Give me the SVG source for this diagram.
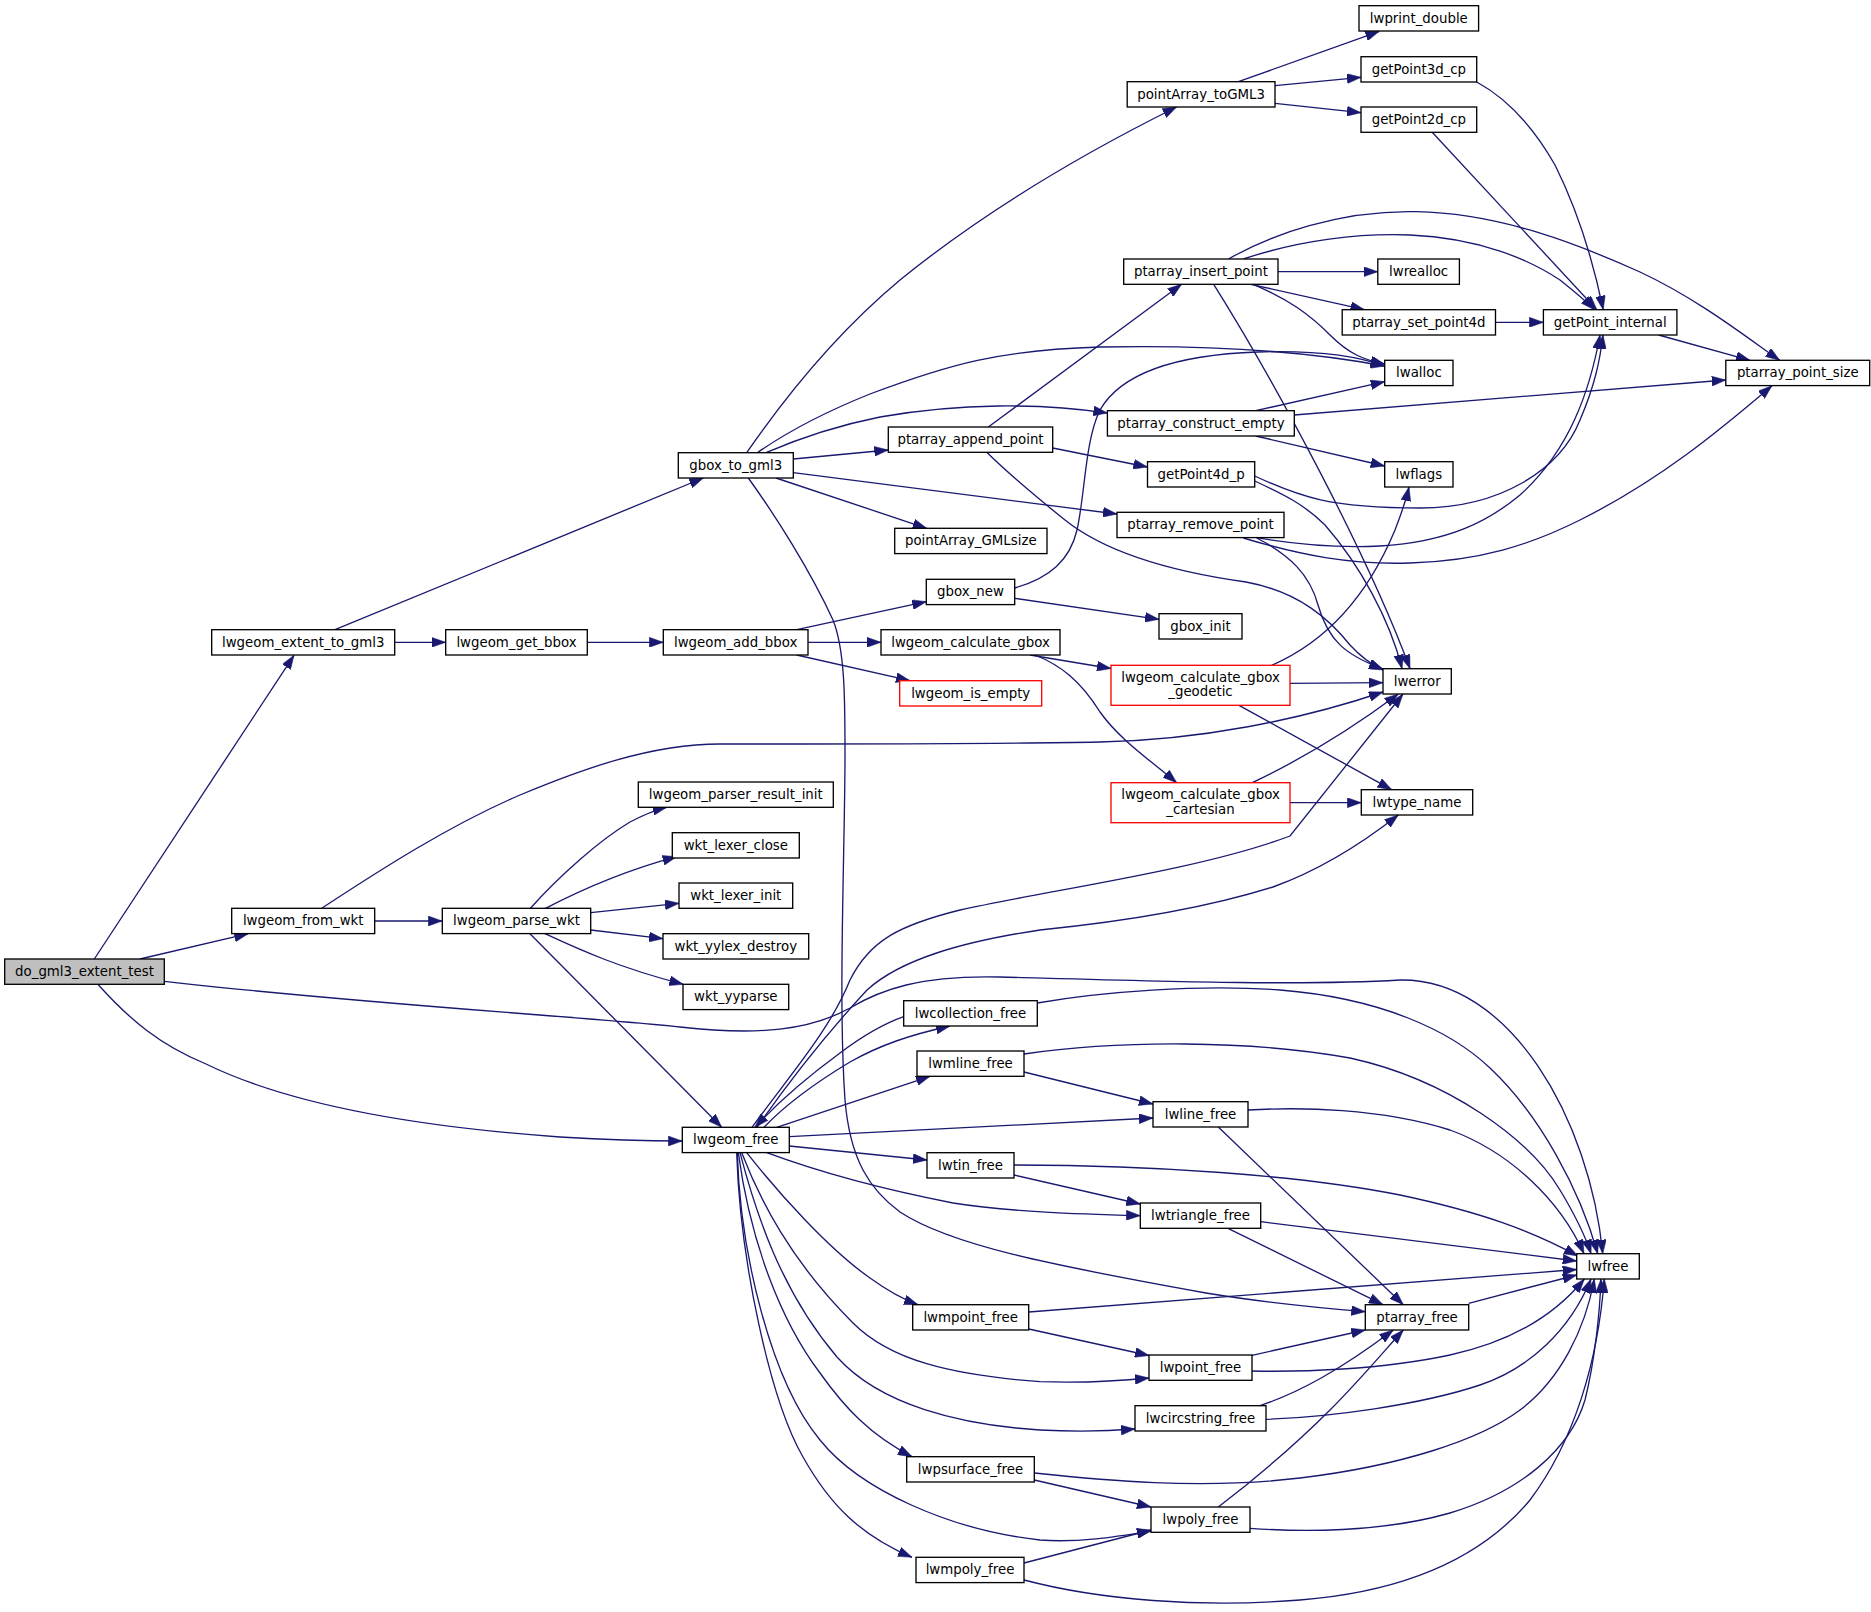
<svg xmlns="http://www.w3.org/2000/svg" width="1871" height="1612" viewBox="0 0 1871 1612">
<style>
.n rect{fill:#fff;stroke:#000;stroke-width:1.33}
.n.root rect{fill:#bfbfbf}
.n.red rect{stroke:#ff0000}
.n text{font-family:"DejaVu Sans","Liberation Sans",sans-serif;font-size:13.33px;text-anchor:middle;fill:#000}
.e path{fill:none;stroke:#191970;stroke-width:1.33;marker-end:url(#arr)}
</style>
<defs>
<marker id="arr" markerUnits="userSpaceOnUse" markerWidth="14" markerHeight="10" viewBox="0 0 13.3 9.4" refX="13.3" refY="4.7" orient="auto">
<path d="M0,0 L13.3,4.7 L0,9.4 z" fill="#191970" stroke="#191970" stroke-width="0.5"/>
</marker>
</defs>
<rect width="1871" height="1612" fill="#fff"/>
<g id="connectors" class="e">
<path d="M94.3,959 L294,655.3"/>
<path d="M140,959 L248.3,933.7"/>
<path d="M164.3,981.3 C350,1003 600,1018 680,1027 C760,1036 810,1030 850,1008 C880,990 920,975 1000,977 C1150,981 1300,986 1400,980 C1510,978 1590,1120 1602.7,1253.7"/>
<path d="M98.3,984.7 C130,1020 160,1045 206,1064 C290,1105 420,1127 560,1137 C610,1140 650,1141 682.3,1141"/>
<path d="M394.7,642.3 L445.7,642.3"/>
<path d="M335,629.7 L703.3,478"/>
<path d="M587.3,642.3 L663.3,642.3"/>
<path d="M796.7,629.7 L926.3,601.7"/>
<path d="M808,642.3 L881,642.3"/>
<path d="M796.7,655 L910,680.7"/>
<path d="M1014.7,588 C1050,578 1070,560 1077,530 C1085,495 1085,440 1100,410 C1120,375 1170,355 1258,352 C1320,350 1360,357 1384.7,366"/>
<path d="M1014.7,598.3 L1159,619.3"/>
<path d="M1030,655 L1111,668.5"/>
<path d="M1035,655 C1060,665 1080,680 1100,712 C1120,740 1150,760 1176.7,782.7"/>
<path d="M1290,683.3 L1383,682.7"/>
<path d="M1271.7,665.3 C1330,640 1370,590 1395,530 C1402,512 1406,500 1409,487"/>
<path d="M1239,705.3 L1391.7,789.7"/>
<path d="M1252.3,782.7 C1300,760 1350,730 1398.3,694"/>
<path d="M1290,802.7 L1361.3,802.7"/>
<path d="M746.7,452.7 C790,390 840,330 900,280 C980,215 1080,155 1176.6,107"/>
<path d="M757.3,452.7 C790,430 830,410 870,394 C950,364 1000,350 1100,347 C1200,345 1300,350 1384.7,366"/>
<path d="M766,452.7 C800,438 840,425 880,417 C960,403 1040,403 1107.4,413"/>
<path d="M793.3,459 L888.3,450"/>
<path d="M793.3,472.7 L1117,514"/>
<path d="M776,478 L926.7,528.3"/>
<path d="M748.3,478 C775,515 810,570 833,620 C845,650 845,700 845,753 C845,850 838,1000 845,1100 C850,1160 870,1190 900,1212 C950,1245 1050,1265 1206,1293 C1260,1302 1310,1307 1365.3,1311.7"/>
<path d="M988.3,427 L1181.6,284.3"/>
<path d="M1052.7,448 L1147.5,467"/>
<path d="M986.7,452.3 C1010,475 1040,500 1065,520 C1100,548 1160,570 1246,582 C1300,592 1330,620 1350,645 C1362,658 1372,665 1383,670"/>
<path d="M1238.4,81.7 L1379.3,31.3"/>
<path d="M1275,85.7 L1361,77.3"/>
<path d="M1275,103.3 L1361,112.7"/>
<path d="M1476.7,82 C1510,100 1535,130 1555,165 C1580,215 1595,270 1603.2,309.7"/>
<path d="M1432.2,132.3 L1596.8,309.7"/>
<path d="M1243.4,259 C1300,240 1360,233 1410,235 C1480,238 1530,260 1560,280 C1575,292 1585,300 1594.3,309.7"/>
<path d="M1228.5,259 C1270,235 1340,210 1416,211.7 C1500,213 1580,245 1640,272 C1700,300 1750,340 1779.7,360.3"/>
<path d="M1278,271.7 L1377.8,271.7"/>
<path d="M1250.8,284.3 L1364.5,309.7"/>
<path d="M1253.2,284.3 C1290,300 1310,315 1330,335 C1350,355 1365,360 1384.7,364"/>
<path d="M1213.7,284.3 C1280,390 1370,560 1410,668.7"/>
<path d="M1495.5,322.3 L1543.4,322.3"/>
<path d="M1658.6,335 L1750,360.3"/>
<path d="M1255.7,410.7 L1384.7,381.7"/>
<path d="M1294.3,415 L1725.8,380"/>
<path d="M1255.7,436 L1384.7,466"/>
<path d="M1254.7,476 C1300,497 1330,508 1420,508 C1500,508 1560,470 1580,420 C1595,385 1600,360 1603,335"/>
<path d="M1256.7,537.7 C1300,545 1340,548 1380,546 C1450,542 1490,520 1520,495 C1570,450 1590,390 1600,335"/>
<path d="M1243.3,538 C1300,555 1350,565 1410,563 C1480,561 1530,545 1580,520 C1660,480 1720,430 1772,385.7"/>
<path d="M1256.7,538 C1290,555 1310,575 1318,605 C1328,640 1345,655 1383,669"/>
<path d="M1254.7,481 C1285,495 1305,505 1325,525 C1360,565 1390,620 1402,668.7"/>
<path d="M374.7,921 L442.3,921"/>
<path d="M321.7,908.3 C380,870 450,825 520,795 C580,770 650,744 720,744 C850,744 1000,744 1100,742 C1200,740 1300,720 1383,692"/>
<path d="M530,908.7 C560,875 600,840 630,822 C645,814 655,810 666.7,807.3"/>
<path d="M545,908.7 C575,893 620,872 676.7,856.7"/>
<path d="M590.7,912.7 L679,903.3"/>
<path d="M590.7,930 L663,938.7"/>
<path d="M545,933.7 C580,950 620,968 683.3,984.3"/>
<path d="M530,933.7 L721.7,1127.3"/>
<path d="M752,1127.3 C790,1075 830,1030 850,980 C870,940 900,925 960,910 C1050,890 1200,870 1290,836 L1403,694"/>
<path d="M757,1127.3 C790,1080 830,1030 867,990 C900,960 960,942 1040,930 C1120,922 1200,910 1273,887 C1320,870 1360,845 1398.3,815"/>
<path d="M903.7,1016.7 C880,1025 860,1038 840,1053 C810,1075 780,1100 755,1127.3"/>
<path d="M764,1127.3 C790,1100 820,1080 850,1062 C880,1045 910,1035 950,1026"/>
<path d="M776.7,1127.3 L930,1076.3"/>
<path d="M789.3,1136.7 L1153,1118"/>
<path d="M789.3,1146 L927,1160"/>
<path d="M766.7,1152.7 C800,1165 860,1185 953,1203 C1010,1212 1080,1214 1140.3,1215.7"/>
<path d="M746.7,1152.7 C780,1195 830,1250 870,1278 C888,1291 905,1300 918,1304.7"/>
<path d="M741.7,1152.7 C760,1200 790,1260 853,1323 C890,1360 950,1375 1040,1381.7 C1080,1383 1120,1381 1149,1378"/>
<path d="M740,1152.7 C755,1210 780,1290 837,1357 C880,1405 960,1425 1040,1430 C1080,1432 1110,1431 1135,1429"/>
<path d="M738.3,1152.7 C750,1240 780,1320 820,1373 C845,1408 870,1435 912,1456.7"/>
<path d="M737.3,1152.7 C740,1250 770,1380 820,1440 C860,1490 950,1530 1040,1540 C1080,1543 1120,1536 1151,1531"/>
<path d="M736.7,1152.7 C740,1260 770,1400 803,1457 C830,1505 860,1535 912,1557.3"/>
<path d="M1037.3,1003 C1100,992 1200,984 1280,990 C1380,998 1450,1030 1490,1068 C1540,1115 1580,1190 1597.7,1253.7"/>
<path d="M1024,1072 L1153,1104"/>
<path d="M1024,1054 C1120,1040 1250,1040 1350,1058 C1450,1080 1530,1140 1560,1190 C1575,1215 1585,1235 1591,1253.7"/>
<path d="M1218.3,1127 L1403.3,1304.7"/>
<path d="M1248,1110 C1300,1107 1380,1108 1450,1130 C1510,1152 1560,1200 1584,1253.7"/>
<path d="M1014,1175 L1140.3,1204"/>
<path d="M1014,1165 C1150,1165 1300,1175 1400,1195 C1480,1212 1530,1230 1578,1256"/>
<path d="M1228,1228.3 L1383,1304.7"/>
<path d="M1260.7,1221.7 L1576.7,1261"/>
<path d="M1028.7,1329 L1149,1355.5"/>
<path d="M1028.7,1312 L1576.7,1269.5"/>
<path d="M1468.7,1303.3 L1576.7,1275"/>
<path d="M1252,1355.3 L1365.3,1330"/>
<path d="M1252,1371 C1300,1372 1380,1370 1450,1355 C1510,1342 1555,1315 1584.3,1279"/>
<path d="M1260,1405.7 C1300,1392 1340,1370 1393.3,1330"/>
<path d="M1266,1419.3 C1330,1417 1420,1405 1480,1385 C1530,1368 1570,1330 1591,1279"/>
<path d="M1034.3,1480 L1151,1507"/>
<path d="M1034.3,1473 C1100,1480 1200,1490 1300,1478 C1400,1466 1480,1440 1520,1410 C1560,1380 1585,1330 1594.3,1279"/>
<path d="M1218.3,1507 C1260,1475 1300,1440 1330,1410 C1360,1380 1385,1350 1403.3,1330"/>
<path d="M1250,1528.3 C1300,1532 1380,1533 1450,1513 C1520,1492 1570,1450 1585,1400 C1595,1360 1600,1310 1601,1279"/>
<path d="M1024,1563 L1151,1530"/>
<path d="M1024,1580 C1100,1600 1200,1608 1300,1600 C1400,1592 1480,1560 1530,1500 C1575,1440 1598,1360 1604.3,1279"/>
</g>
<g id="n1" class="n root"><rect x="4.7" y="959" width="159.6" height="25.3"/><text x="84.5" y="976">do_gml3_extent_test</text></g>
<g id="n2" class="n"><rect x="211.7" y="629.7" width="183" height="25.3"/><text x="303.2" y="646.7">lwgeom_extent_to_gml3</text></g>
<g id="n3" class="n"><rect x="445.7" y="629.7" width="141.6" height="25.3"/><text x="516.5" y="646.7">lwgeom_get_bbox</text></g>
<g id="n4" class="n"><rect x="663.3" y="629.7" width="144.7" height="25.3"/><text x="735.7" y="646.7">lwgeom_add_bbox</text></g>
<g id="n5" class="n"><rect x="678.3" y="452.7" width="115" height="25.3"/><text x="735.8" y="469.7">gbox_to_gml3</text></g>
<g id="n6" class="n"><rect x="1127.2" y="81.7" width="147.8" height="25.3"/><text x="1201.1" y="98.7">pointArray_toGML3</text></g>
<g id="n7" class="n"><rect x="1359" y="5.7" width="119.6" height="25.3"/><text x="1418.8" y="22.7">lwprint_double</text></g>
<g id="n8" class="n"><rect x="1361" y="56.7" width="115.7" height="25.3"/><text x="1418.9" y="73.7">getPoint3d_cp</text></g>
<g id="n9" class="n"><rect x="1361" y="107" width="115.7" height="25.3"/><text x="1418.9" y="124">getPoint2d_cp</text></g>
<g id="n10" class="n"><rect x="1123.7" y="259" width="154.3" height="25.3"/><text x="1200.9" y="276">ptarray_insert_point</text></g>
<g id="n11" class="n"><rect x="1377.8" y="259" width="81.6" height="25.3"/><text x="1418.6" y="276">lwrealloc</text></g>
<g id="n12" class="n"><rect x="1342.2" y="309.7" width="153.3" height="25.3"/><text x="1418.9" y="326.7">ptarray_set_point4d</text></g>
<g id="n13" class="n"><rect x="1543.4" y="309.7" width="133.5" height="25.3"/><text x="1610.2" y="326.7">getPoint_internal</text></g>
<g id="n14" class="n"><rect x="1725.8" y="360.3" width="143.9" height="25.3"/><text x="1797.8" y="377.3">ptarray_point_size</text></g>
<g id="n15" class="n"><rect x="1384.7" y="360.3" width="68.3" height="25.3"/><text x="1418.9" y="377.3">lwalloc</text></g>
<g id="n16" class="n"><rect x="1107.4" y="410.7" width="186.9" height="25.3"/><text x="1200.9" y="427.7">ptarray_construct_empty</text></g>
<g id="n17" class="n"><rect x="888.3" y="427" width="164.4" height="25.3"/><text x="970.5" y="444">ptarray_append_point</text></g>
<g id="n18" class="n"><rect x="1384.7" y="461.7" width="68.3" height="25.3"/><text x="1418.9" y="478.7">lwflags</text></g>
<g id="n19" class="n"><rect x="1147.5" y="461.7" width="107.2" height="25.3"/><text x="1201.1" y="478.7">getPoint4d_p</text></g>
<g id="n20" class="n"><rect x="1117" y="512.3" width="167" height="25.3"/><text x="1200.5" y="529.3">ptarray_remove_point</text></g>
<g id="n21" class="n"><rect x="894.7" y="528.3" width="152.3" height="25.3"/><text x="970.8" y="545.3">pointArray_GMLsize</text></g>
<g id="n22" class="n"><rect x="926.3" y="579.3" width="88.4" height="25.3"/><text x="970.5" y="596.3">gbox_new</text></g>
<g id="n23" class="n"><rect x="1159" y="613.7" width="83" height="25.3"/><text x="1200.5" y="630.7">gbox_init</text></g>
<g id="n24" class="n"><rect x="881" y="629.7" width="179" height="25.3"/><text x="970.5" y="646.7">lwgeom_calculate_gbox</text></g>
<g id="n25" class="n red"><rect x="899.7" y="680.7" width="142" height="25.3"/><text x="970.7" y="697.7">lwgeom_is_empty</text></g>
<g id="n26" class="n red"><rect x="1111" y="665.3" width="179" height="40"/><text x="1200.5" y="681.8">lwgeom_calculate_gbox</text><text x="1200.5" y="696.3">_geodetic</text></g>
<g id="n27" class="n"><rect x="1383" y="668.7" width="68.3" height="25.3"/><text x="1417.2" y="685.7">lwerror</text></g>
<g id="n28" class="n red"><rect x="1111" y="782.7" width="179" height="40"/><text x="1200.5" y="799.2">lwgeom_calculate_gbox</text><text x="1200.5" y="813.7">_cartesian</text></g>
<g id="n29" class="n"><rect x="1361.3" y="789.7" width="111.4" height="25.3"/><text x="1417" y="806.7">lwtype_name</text></g>
<g id="n30" class="n"><rect x="638.3" y="782" width="195" height="25.3"/><text x="735.8" y="799">lwgeom_parser_result_init</text></g>
<g id="n31" class="n"><rect x="672.3" y="832.7" width="127" height="25.3"/><text x="735.8" y="849.7">wkt_lexer_close</text></g>
<g id="n32" class="n"><rect x="679" y="883" width="113.7" height="25.3"/><text x="735.8" y="900">wkt_lexer_init</text></g>
<g id="n33" class="n"><rect x="663" y="933.7" width="145.7" height="25.3"/><text x="735.8" y="950.7">wkt_yylex_destroy</text></g>
<g id="n34" class="n"><rect x="683" y="984.3" width="105.7" height="25.3"/><text x="735.8" y="1001.3">wkt_yyparse</text></g>
<g id="n35" class="n"><rect x="231.7" y="908.3" width="143" height="25.3"/><text x="303.2" y="925.3">lwgeom_from_wkt</text></g>
<g id="n36" class="n"><rect x="442.3" y="908.3" width="148.4" height="25.3"/><text x="516.5" y="925.3">lwgeom_parse_wkt</text></g>
<g id="n37" class="n"><rect x="682.3" y="1127.3" width="107" height="25.3"/><text x="735.8" y="1144.3">lwgeom_free</text></g>
<g id="n38" class="n"><rect x="903.7" y="1000.7" width="133.6" height="25.3"/><text x="970.5" y="1017.7">lwcollection_free</text></g>
<g id="n39" class="n"><rect x="917" y="1051" width="107" height="25.3"/><text x="970.5" y="1068">lwmline_free</text></g>
<g id="n40" class="n"><rect x="1153" y="1101.7" width="95" height="25.3"/><text x="1200.5" y="1118.7">lwline_free</text></g>
<g id="n41" class="n"><rect x="927" y="1152.7" width="87" height="25.3"/><text x="970.5" y="1169.7">lwtin_free</text></g>
<g id="n42" class="n"><rect x="1140.3" y="1203" width="120.4" height="25.3"/><text x="1200.5" y="1220">lwtriangle_free</text></g>
<g id="n43" class="n"><rect x="1576.7" y="1253.7" width="62.6" height="25.3"/><text x="1608" y="1270.7">lwfree</text></g>
<g id="n44" class="n"><rect x="912.7" y="1304.7" width="116" height="25.3"/><text x="970.7" y="1321.7">lwmpoint_free</text></g>
<g id="n45" class="n"><rect x="1365.3" y="1304.7" width="103.4" height="25.3"/><text x="1417" y="1321.7">ptarray_free</text></g>
<g id="n46" class="n"><rect x="1149" y="1355" width="103" height="25.3"/><text x="1200.5" y="1372">lwpoint_free</text></g>
<g id="n47" class="n"><rect x="1135" y="1405.7" width="131" height="25.3"/><text x="1200.5" y="1422.7">lwcircstring_free</text></g>
<g id="n48" class="n"><rect x="906.7" y="1456.7" width="127.6" height="25.3"/><text x="970.5" y="1473.7">lwpsurface_free</text></g>
<g id="n49" class="n"><rect x="1151" y="1507" width="99" height="25.3"/><text x="1200.5" y="1524">lwpoly_free</text></g>
<g id="n50" class="n"><rect x="916" y="1557.3" width="108" height="25.3"/><text x="970" y="1574.3">lwmpoly_free</text></g>
</svg>
